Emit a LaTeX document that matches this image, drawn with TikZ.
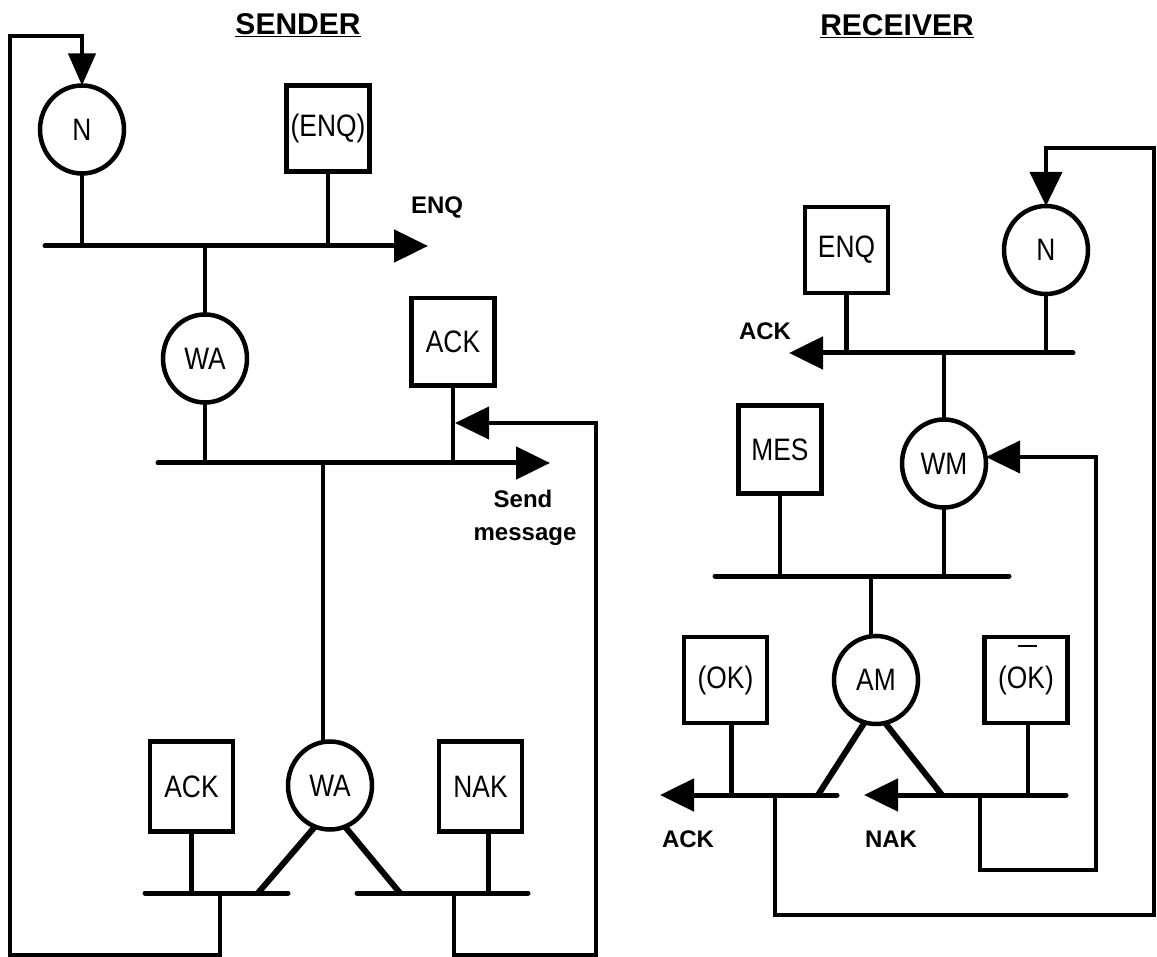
\documentclass[tikz,border=0pt]{standalone}
\usepackage{fontspec}
\setmainfont{Liberation Sans}
\newfontfamily\nodefont[FakeStretch=0.85]{Liberation Sans}
\usetikzlibrary{arrows.meta,shapes.geometric}
\begin{document}
\begin{tikzpicture}[x=1pt,y=-1pt,
  every node/.style={inner sep=0pt,outer sep=0pt},
  circ/.style={ellipse,draw,line width=4.5pt,minimum width=84pt,minimum height=88pt,font=\nodefont\fontsize{31}{31}\selectfont},
  box/.style={rectangle,draw,line width=4.5pt,minimum width=83pt,minimum height=86pt,font=\nodefont\fontsize{31}{31}\selectfont},
  wire/.style={line width=4.5pt},
  bus/.style={line width=5pt,line cap=round},
  diag/.style={line width=6pt},
  loopline/.style={line width=4pt},
  tip/.style={-{Triangle[length=34pt,width=32pt]}},
  tipsmall/.style={-{Triangle[length=32pt,width=27pt]}},
  lbl/.style={anchor=base,font=\bfseries\fontsize{24}{24}\selectfont},
  ttl/.style={anchor=base,font=\bfseries\fontsize{30}{30}\selectfont}
]
\useasboundingbox (0,0) rectangle (1157,957);

% ---------- titles ----------
\node[ttl] (tS) at (298,35) {\underline{SENDER}};
\node[ttl] (tR) at (897,36) {\underline{RECEIVER}};

% ================= SENDER =================
\node[circ] (N1) at (82,129.5) {N};
\node[box] (ENQb) at (328,128.5) {(ENQ)};
\node[circ] (WA1) at (205,358.5) {WA};
\node[box,minimum height=87.5pt] (ACK1) at (453,342) {ACK};
\node[circ] (WA2) at (330,785.5) {WA};
\node[box,minimum height=90pt] (ACK2) at (191.5,786.5) {ACK};
\node[box,minimum height=90pt] (NAK) at (480.5,786.5) {NAK};

\node[lbl] (lENQ) at (437,214) {ENQ};
\node[lbl] (lSend) at (523,507) {Send};
\node[lbl] (lMsg) at (525,540) {message};

% bus 1
\coordinate (b1L) at (45,246);
\coordinate (b1R) at (428,246);
\draw[bus,tip] (b1L) -- (b1R);
\draw[wire] (N1.south) -- (N1.south |- b1L);
\draw[wire] (ENQb.south) -- (ENQb.south |- b1L);
\draw[wire] (WA1.north |- b1L) -- (WA1.north);

% bus 2
\coordinate (b2L) at (158,463);
\coordinate (b2R) at (550,463);
\draw[bus,tip] (b2L) -- (b2R);
\draw[wire] (WA1.south) -- (WA1.south |- b2L);
\draw[wire] (ACK1.south) -- (ACK1.south |- b2L);
\coordinate (jW) at (323,463);
\draw[wire] (jW) -- (jW |- WA2.north);

% bottom buses
\coordinate (b3La) at (145,893);
\coordinate (b3Lb) at (288,893);
\coordinate (b3Ra) at (357,893);
\coordinate (b3Rb) at (528,893);
\draw[bus] (b3La) -- (b3Lb);
\draw[bus] (b3Ra) -- (b3Rb);
\draw[wire] (ACK2.south) -- (ACK2.south |- b3La);
\draw[wire] ([xshift=8pt]NAK.south) -- ([xshift=8pt]NAK.south |- b3La);
\coordinate (dL) at (258,893);
\coordinate (dR) at (400,893);
\draw[diag] (WA2.-110) -- (dL);
\draw[diag] (WA2.-70) -- (dR);

% feedback loops (sender)
\coordinate (jL) at (220,893);
\coordinate (cL1) at (220,955);
\coordinate (cL2) at (10,955);
\coordinate (cL3) at (10,36);
\draw[loopline,tipsmall] (jL) -- (cL1) -- (cL2) -- (cL3) -- (N1.north |- cL3) -- (N1.north);

\coordinate (jR) at (454,893);
\coordinate (cR1) at (454,955);
\coordinate (cR2) at (596,955);
\coordinate (cR3) at (596,423);
\draw[loopline,tip] (jR) -- (cR1) -- (cR2) -- (cR3) -- ([xshift=2pt]ACK1.south |- cR3);

% ================= RECEIVER =================
\node[circ] (N2) at (1046,250) {N};
\node[box] (ENQ2) at (846.5,250) {ENQ};
\node[circ] (WM) at (944,463.5) {WM};
\node[box,minimum height=88pt] (MES) at (780,449.5) {MES};
\node[circ] (AM) at (876,680) {AM};
\node[box] (OK) at (725.5,680) {(OK)};
\node[box] (NOK) at (1026,680) {(O\smash{\makebox[0pt][c]{\rule[1.32em]{0.6em}{2.6pt}}}K)};

\node[lbl] (lACKr) at (765,340) {ACK};
\node[lbl] (lACKb) at (688,847) {ACK};
\node[lbl] (lNAK) at (891,847) {NAK};

% bus 4
\coordinate (b4L) at (789,353);
\coordinate (b4R) at (1073,353);
\draw[bus,tip] (b4R) -- (b4L);
\draw[wire] (ENQ2.south) -- (ENQ2.south |- b4L);
\draw[wire] (N2.south) -- (N2.south |- b4L);
\draw[wire] (WM.north |- b4L) -- (WM.north);

% bus 5
\coordinate (b5L) at (715,576);
\coordinate (b5R) at (1009,576);
\draw[bus] (b5L) -- (b5R);
\draw[wire] (MES.south) -- (MES.south |- b5L);
\draw[wire] (WM.south) -- (WM.south |- b5L);
\coordinate (jA) at (871,576);
\draw[wire] (jA) -- (jA |- AM.north);

% bus 6
\coordinate (b6La) at (660,795);
\coordinate (b6Lb) at (837,795);
\coordinate (b6Ra) at (864,795);
\coordinate (b6Rb) at (1066,795);
\draw[bus,tip] (b6Lb) -- (b6La);
\draw[bus,tip] (b6Rb) -- (b6Ra);
\draw[wire] ([xshift=6pt]OK.south) -- ([xshift=6pt]OK.south |- b6La);
\draw[wire] ([xshift=2pt]NOK.south) -- ([xshift=2pt]NOK.south |- b6La);
\coordinate (eL) at (818,795);
\coordinate (eR) at (942,795);
\draw[diag] (AM.-105) -- (eL);
\draw[diag] (AM.-78) -- (eR);

% feedback loops (receiver)
\coordinate (jM) at (980,795);
\coordinate (cM1) at (980,870);
\coordinate (cM2) at (1096,870);
\coordinate (cM3) at (1096,457);
\draw[loopline,tip] (jM) -- (cM1) -- (cM2) -- (cM3) -- (WM.east |- cM3);

\coordinate (jK) at (775,795);
\coordinate (cK1) at (775,915);
\coordinate (cK2) at (1154,915);
\coordinate (cK3) at (1154,148);
\draw[loopline,tip] (jK) -- (cK1) -- (cK2) -- (cK3) -- (N2.north |- cK3) -- (N2.north);
\end{tikzpicture}
\end{document}
